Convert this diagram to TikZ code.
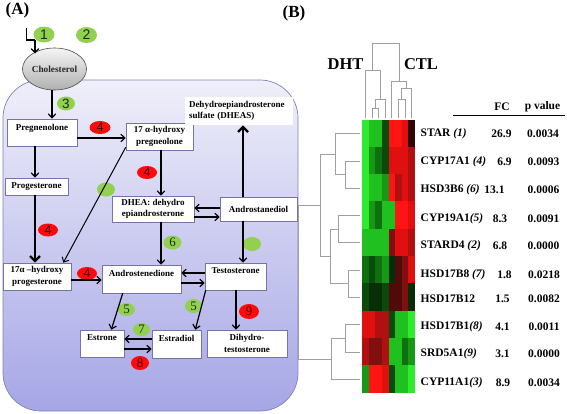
\documentclass[tikz,border=0pt]{standalone}
\usepackage{fontspec}
\setmainfont{Liberation Serif}
\newfontfamily\numsans{Liberation Sans}
\usetikzlibrary{arrows.meta,calc,shapes.geometric}
\definecolor{cellTop}{HTML}{EFEFFA}
\definecolor{cellBot}{HTML}{A6A6E6}
\definecolor{cellEdge}{HTML}{8080BC}
\definecolor{boxEdge}{HTML}{7474A8}
\definecolor{grn}{HTML}{92D050}
\definecolor{rd}{HTML}{FF0A0A}
\definecolor{gtxt}{HTML}{1C2C14}
\definecolor{rtxt}{HTML}{3A0000}
\definecolor{gA}{HTML}{2EEB2E}
\definecolor{gB}{HTML}{20C020}
\definecolor{gC}{HTML}{169A16}
\definecolor{gD}{HTML}{0E700E}
\definecolor{gE}{HTML}{0A4A0A}
\definecolor{gF}{HTML}{082E08}
\definecolor{rA}{HTML}{FF1414}
\definecolor{rB}{HTML}{E01010}
\definecolor{rC}{HTML}{B01010}
\definecolor{rD}{HTML}{801010}
\definecolor{rE}{HTML}{500A0A}
\definecolor{rF}{HTML}{300606}
\begin{document}
\begin{tikzpicture}[x=1pt,y=-1pt,
  pbox/.style={draw=boxEdge, line width=0.6pt, fill=white, inner sep=1pt, align=center,
    font=\fontsize{9}{11.5}\selectfont\bfseries},
  topbox/.style={pbox, text depth=11pt},
  arr/.style={-{Straight Barb[length=4pt,width=7.5pt]}, line width=1.2pt},
  bigarr/.style={-{Straight Barb[length=5pt,width=10pt]}, line width=2.4pt},
  gdot/.style={ellipse, fill=grn, inner sep=0pt, minimum width=18pt, minimum height=14pt, text=gtxt},
  rdot/.style={ellipse, fill=rd, inner sep=0pt, minimum width=20pt, minimum height=13pt, text=rtxt},
  sansn/.style={font=\numsans\fontsize{12.5}{13}\selectfont},
  serifn/.style={font=\fontsize{13}{13}\selectfont},
  dend/.style={draw=gray!75, line width=0.8pt},
  gene/.style={anchor=west, inner sep=0pt, font=\fontsize{11.5}{12}\selectfont\bfseries},
  val/.style={inner sep=0pt, font=\fontsize{11.5}{12}\selectfont\bfseries},
  panel/.style={inner sep=0pt, font=\fontsize{17}{18}\selectfont\bfseries}
]
\useasboundingbox (0,0) rectangle (567,413);
\fill[white] (0,0) rectangle (567,413);

% ---------------- Panel A ----------------
\node[panel] (labA) at (17.5,10) {(A)};
\draw[draw=cellEdge, line width=0.7pt, top color=cellTop, bottom color=cellBot, rounded corners=38pt]
  (3,80) rectangle (298,411);

\node[ellipse, draw=gray!60!black, line width=0.6pt, top color=gray!8, bottom color=gray!62,
      minimum width=55pt, minimum height=42pt, inner sep=0pt,
      font=\fontsize{9.3}{10}\selectfont\bfseries, text=black!85] (chol) at (54.5,69) {Cholesterol};

\node[pbox, topbox, minimum width=70pt, minimum height=27pt] (preg) at (42,132.5) {Pregnenolone};
\node[pbox, minimum width=67pt, minimum height=27pt] (hpreg) at (159.5,136.5) {17 α-hydroxy\\pregneolone};
\node[pbox, minimum width=63pt, minimum height=17pt] (prog) at (36.5,186.5) {Progesterone};
\node[pbox, minimum width=82pt, minimum height=26pt] (dhea) at (153,209) {DHEA: dehydro\\epiandrosterone};
\node[pbox, minimum width=77pt, minimum height=24pt] (andiol) at (258.5,209) {Androstanediol};
\node[pbox, draw=none, text width=100pt, inner xsep=4pt, inner ysep=2pt, minimum height=28pt, align=left] (dheas) at (239,111)
  {Dehydroepiandrosterone\\sulfate (DHEAS)};
\node[pbox, minimum width=68pt, minimum height=27pt] (hprog) at (37,276.5) {17α –hydroxy\\progesterone};
\node[pbox, topbox, minimum width=79pt, minimum height=28pt] (adione) at (141.5,279) {Androstenedione};
\node[pbox, topbox, minimum width=61pt, minimum height=27pt] (testo) at (235.5,276.5) {Testosterone};
\node[pbox, topbox, minimum width=44pt, minimum height=27pt] (estrone) at (102,343.5) {Estrone};
\node[pbox, topbox, minimum width=49pt, minimum height=28pt] (estradiol) at (176.5,344) {Estradiol};
\node[pbox, minimum width=80pt, minimum height=27pt] (dht) at (247,343.5) {Dihydro-\\testosterone};

% enzyme dots
\node[gdot, minimum width=21pt, minimum height=16pt, font=\numsans\fontsize{14}{14}\selectfont] (e1) at (44,34.5) {1};
\node[gdot, minimum width=21pt, minimum height=16pt, font=\numsans\fontsize{14}{14}\selectfont] (e2) at (86.5,35) {2};
\node[gdot, font=\numsans\fontsize{13.5}{14}\selectfont] (e3) at (66,103.5) {3};
\node[rdot, sansn, minimum width=21pt] (e4a) at (100,127.5) {4};
\node[rdot, sansn] (e4b) at (147,172.5) {4};
\node[rdot, sansn] (e4c) at (48,230) {4};
\node[rdot, sansn] (e4d) at (87,273.5) {4};
\node[gdot] (ex1) at (106,189.5) {};
\node[gdot, serifn] (e6) at (172.5,242.5) {6};
\node[gdot] (ex2) at (252,244) {};
\node[gdot, serifn, minimum width=17pt, minimum height=13pt] (e5a) at (126.5,309.5) {5};
\node[gdot, serifn, minimum width=17pt, minimum height=14pt] (e5b) at (193.5,306) {5};
\node[gdot, serifn, minimum width=17pt, minimum height=13pt] (e7) at (141.5,329.5) {7};
\node[rdot, serifn, minimum width=18pt, minimum height=14pt] (e8) at (140,363) {8};
\node[rdot, serifn, minimum height=15pt] (e9) at (249,311.5) {9};

% arrows
\coordinate (in0) at (26.7,28.3);
\coordinate (in1) at (35,40);
\coordinate (in2) at (35,53.5);
\draw[line width=1.2pt] (in0) |- (in1);
\draw[arr] (in1) -- (in2);
\draw[arr] (chol.south -| 52,0) -- (preg.north -| 52,0);
\draw[arr] (preg.east |- 0,138) -- (hpreg.west |- 0,138);
\draw[arr] (preg.south -| 35,0) -- (prog.north -| 35,0);
\draw[bigarr] (prog.south -| 35,0) -- (hprog.north -| 35,0);
\draw[arr] (hpreg.south -| 161,0) -- (dhea.north -| 161,0);
\draw[arr, line width=1pt] ($(hpreg.south west)+(0,-3)$) -- ($(hprog.north east)+(-8,0)$);
\draw[arr] (dhea.south -| 161,0) -- (adione.north -| 161,0);
\draw[arr] (andiol.west |- 0,208) -- (dhea.east |- 0,208);
\draw[arr] (dhea.east |- 0,217) -- (andiol.west |- 0,217);
\draw[bigarr] (andiol.north -| 243,0) -- (dheas.south -| 243,0);
\draw[arr] (andiol.south -| 243,0) -- (testo.north -| 243,0);
\draw[arr] (testo.west |- 0,273) -- (adione.east |- 0,273);
\draw[arr] (adione.east |- 0,283) -- (testo.west |- 0,283);
\draw[arr] (hprog.east |- 0,280) -- (adione.west |- 0,280);
\draw[arr] ($(adione.south west)+(21,0)$) -- ($(estrone.north east)+(-13,0)$);
\draw[arr] ($(testo.south west)+(1,0)$) -- ($(estradiol.north east)+(-6,0)$);
\draw[arr] (testo.south -| 236,0) -- (dht.north -| 236,0);
\draw[arr] (estradiol.west |- 0,339) -- (estrone.east |- 0,339);
\draw[arr] (estrone.east |- 0,349) -- (estradiol.west |- 0,349);

% ---------------- Panel B ----------------
\node[panel] (labB) at (294,13) {(B)};
\node[inner sep=0pt, font=\fontsize{16.5}{17}\selectfont\bfseries] (tDHT) at (345.5,64) {DHT};
\node[inner sep=0pt, font=\fontsize{16.5}{17}\selectfont\bfseries] (tCTL) at (421,64) {CTL};

% heat map
\foreach \row [count=\i] in {
  {gA,gB,gB,gE,rA,rA,rB,rF},
  {gA,gC,gD,gE,rB,rB,rB,rC},
  {gA,gB,gB,gC,rA,rC,rB,rC},
  {gA,gC,gD,gB,gB,rA,rA,rB},
  {gB,gB,gB,gB,rD,rB,rB,rC},
  {gD,gE,gD,gC,gF,rE,rD,rB},
  {gE,gF,gF,gE,rE,rE,rD,gF},
  {rB,rB,rC,rC,gE,gB,gB,gA},
  {rC,rD,rD,rC,gB,gB,gD,gC},
  {gC,rA,rA,rB,gE,gB,gB,gA}} {
  \foreach \c [count=\j] in \row {
    \fill[fill=\c] ({362+6.625*(\j-1)},{119.5+27.3*(\i-1)}) rectangle ++(6.75,27.45);
  }
}

% column dendrogram
\draw[dend] (371.9,118) |- (378.6,108.3) -- (378.6,118);
\draw[dend] (375.25,108.3) |- (385.2,99.3) -- (385.2,118);
\draw[dend] (365.3,118) |- (380.2,70) -- (380.2,99.3);
\draw[dend] (398.4,118) |- (405.1,99.3) -- (405.1,118);
\draw[dend] (401.75,99.3) |- (411.7,88.3) -- (411.7,118);
\draw[dend] (391.8,118) |- (406.7,81.7) -- (406.7,88.3);
\draw[dend] (372.75,70) |- (399.25,43.3) -- (399.25,81.7);

% row dendrogram
\draw[dend] (360,160.95) -| (345,188.25) -- (360,188.25);
\draw[dend] (360,133.65) -| (335.5,174.6) -- (345,174.6);
\draw[dend] (360,215.55) -| (338,242.85) -- (360,242.85);
\draw[dend] (360,270.15) -| (348,297.45) -- (360,297.45);
\draw[dend] (338,229.2) -| (330.5,283.8) -- (348,283.8);
\draw[dend] (335.5,154.1) -| (320,256.5) -- (330.5,256.5);
\draw[dend] (360,324.75) -| (345,352.05) -- (360,352.05);
\draw[dend] (345,338.4) -| (331,379.35) -- (360,379.35);
\draw[dend] (320,205.3) -| (298.5,358.9) -- (331,358.9);

% table
\node[val] (hFC) at (502,107) {FC};
\node[val] (hP) at (542.5,107) {p value};
\coordinate (ruleL) at (453,115.5);
\coordinate (ruleR) at (565,115.5);
\draw[line width=1.3pt] (ruleL) -- (ruleR);

\node[gene] (g1) at (420.5,134) {STAR \textit{(1)}};
\node[gene] (g2) at (420.5,162) {CYP17A1 \textit{(4)}};
\node[gene] (g3) at (420.5,190) {HSD3B6 \textit{(6)}};
\node[gene] (g4) at (420.5,218.5) {CYP19A1\textit{(5)}};
\node[gene] (g5) at (420.5,246) {STARD4 \textit{(2)}};
\node[gene] (g6) at (420.5,274.5) {HSD17B8 \textit{(7)}};
\node[gene] (g7) at (420.5,298.5) {HSD17B12};
\node[gene] (g8) at (420.5,327) {HSD17B1\textit{(8)}};
\node[gene] (g9) at (420.5,354) {SRD5A1\textit{(9)}};
\node[gene] (g10) at (420.5,382.5) {CYP11A1\textit{(3)}};

\node[val] (f1) at (501.5,134) {26.9};
\node[val] (f2) at (504.5,162) {6.9};
\node[val] (f3) at (494.5,190) {13.1};
\node[val] (f4) at (500,218.5) {8.3};
\node[val] (f5) at (500,246) {6.8};
\node[val] (f6) at (504.5,274.5) {1.8};
\node[val] (f7) at (502.5,298.5) {1.5};
\node[val] (f8) at (502.5,327) {4.1};
\node[val] (f9) at (502.5,354) {3.1};
\node[val] (f10) at (503,382.5) {8.9};

\node[val] (p1) at (543,134) {0.0034};
\node[val] (p2) at (543.5,162) {0.0093};
\node[val] (p3) at (543.5,190) {0.0006};
\node[val] (p4) at (543.5,218.5) {0.0091};
\node[val] (p5) at (543.5,246) {0.0000};
\node[val] (p6) at (544,274.5) {0.0218};
\node[val] (p7) at (544,298.5) {0.0082};
\node[val] (p8) at (544,327) {0.0011};
\node[val] (p9) at (544,354) {0.0000};
\node[val] (p10) at (544,382.5) {0.0034};
\end{tikzpicture}
\end{document}
